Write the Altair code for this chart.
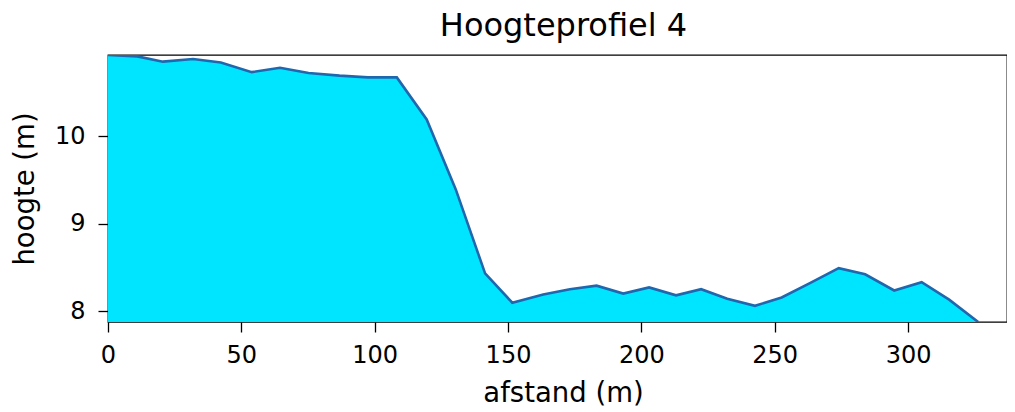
import altair as alt
import pandas as pd

afstand = [0, 11, 20.6, 31.9, 42.3, 53.9, 64.5, 75.2, 86.8, 97.5, 108.3, 119.5,
           130.4, 141.4, 151.6, 163.2, 173.2, 183.2, 193.2, 202.9, 213.0, 222.4,
           232.2, 242.6, 252.6, 263.2, 274.0, 283.9, 294.8, 305.1, 315.4, 326.3]
hoogte = [10.926, 10.91, 10.85, 10.88, 10.84, 10.73, 10.78, 10.72, 10.69, 10.67,
          10.67, 10.19, 9.39, 8.43, 8.095, 8.19, 8.25, 8.29, 8.20, 8.27, 8.18,
          8.25, 8.14, 8.06, 8.155, 8.32, 8.49, 8.42, 8.235, 8.33, 8.13, 7.875]

x_domain = [0, 337.1]
y_domain = [7.875, 10.926]
x_ticks = [0, 50, 100, 150, 200, 250, 300]
y_ticks = [8, 9, 10]

df = pd.DataFrame({"afstand": afstand, "hoogte": hoogte})

FONT = "DejaVu Sans"

chart = alt.Chart(df).mark_area(
    color="#00e5ff",
    opacity=1,
    clip=True,
    line={"color": "#2067ad", "strokeWidth": 2.6},
).encode(
    x=alt.X("afstand:Q",
            scale=alt.Scale(domain=x_domain, nice=False, zero=False),
            axis=alt.Axis(values=x_ticks, title="afstand (m)", format="d",
                          labelFlush=False,
                          labelBaseline="alphabetic", labelPadding=30,
                          titleX=455, titleY=79, titleBaseline="alphabetic")),
    y=alt.Y("hoogte:Q",
            scale=alt.Scale(domain=y_domain, nice=False, zero=False),
            axis=alt.Axis(values=y_ticks, title="hoogte (m)", format="d",
                          labelFlush=False,
                          labelPadding=13, titleX=-75, titleBaseline="alphabetic")),
    y2=alt.datum(y_domain[0]),
).properties(
    width=899,
    height=267,
    title=alt.TitleParams("Hoogteprofiel 4", fontSize=32, font=FONT,
                          fontWeight="normal", color="#000",
                          anchor="middle", baseline="alphabetic", offset=-13,
                          dx=6),
    autosize=alt.AutoSizeParams(type="none"),
    padding={"left": 100, "top": 47, "right": 0, "bottom": 90},
).configure_view(
    stroke="#000", strokeWidth=1.3
).configure_axis(
    domain=False,
    grid=False,
    ticks=True,
    tickColor="#000",
    tickSize=10,
    tickWidth=1.3,
    labelFont=FONT,
    labelFontSize=24,
    labelColor="#000",
    titleFont=FONT,
    titleFontSize=27.5,
    titleFontWeight="normal",
    titleColor="#000",
)

chart.save("out.html", embed_options={"renderer": "svg", "actions": False})
